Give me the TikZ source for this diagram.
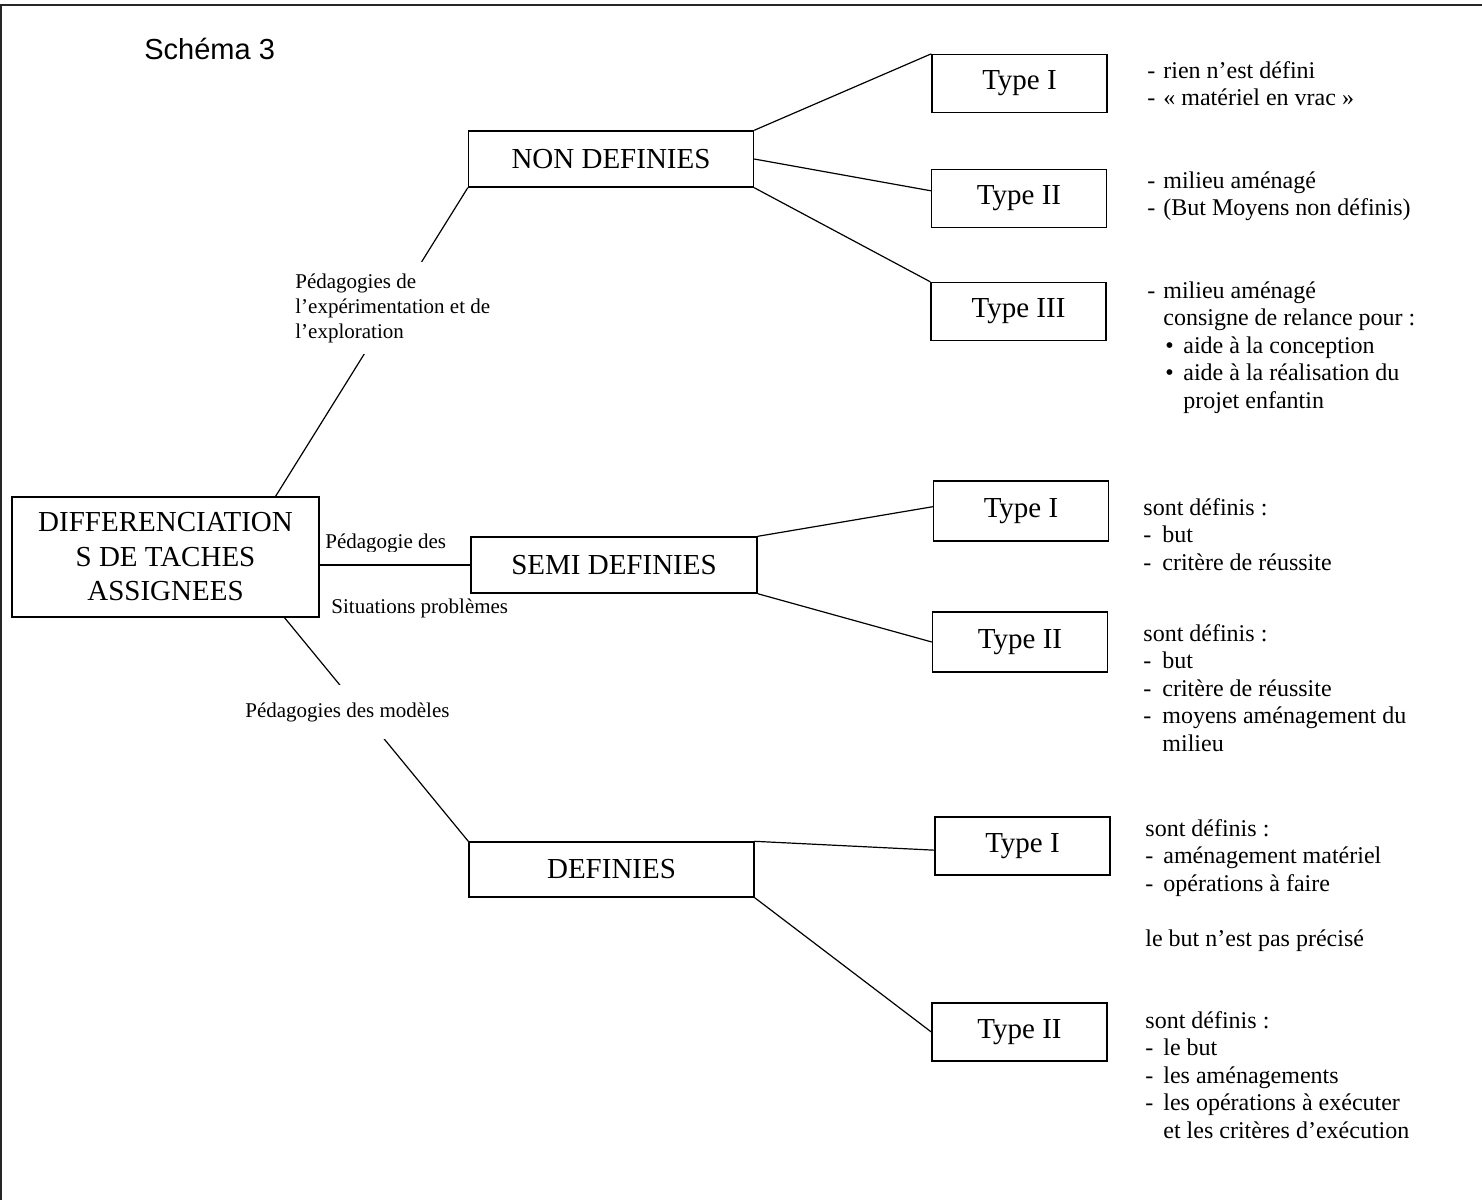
\documentclass[tikz,border=0pt]{standalone}
\usepackage{fontspec}
\setmainfont{Liberation Serif}
\newfontfamily\arialfont{Liberation Sans}
\usetikzlibrary{calc}
\newcommand\diagBoxFont{\fontsize{14.5pt}{17.25pt}\selectfont}
\newcommand\diagNoteFont{\fontsize{12pt}{13.75pt}\selectfont}
\newcommand\diagLabFont{\fontsize{10.5pt}{12.5pt}\selectfont}
\newcommand\diagTitleFont{\arialfont\fontsize{14.5pt}{17pt}\selectfont}
\newcommand\diagDash[1]{\makebox[#1][l]{-}}
\newcommand\diagBul{\hspace*{9pt}\makebox[9pt][l]{\textbullet}}
\begin{document}
\begin{tikzpicture}[x=0.5pt,y=-0.5pt,
  catbox/.style={draw, line width=0.7pt, inner sep=0pt, minimum width=142.5pt, minimum height=28pt, font=\diagBoxFont},
  typebox/.style={draw, line width=0.7pt, inner sep=0pt, minimum width=87.5pt, minimum height=29pt, font=\diagBoxFont},
  conn/.style={line width=0.6pt},
  note/.style={anchor=base west, inner sep=0pt, align=left, font=\diagNoteFont},
  lab/.style={inner sep=0pt, align=left, font=\diagLabFont}]
\useasboundingbox (0,0) rectangle (1482,1200);
% frame
\draw[line width=1pt, black!85] (0,5) -- (1482,5);
\draw[line width=1pt, black!85] (1,5) -- (1,1200);
% title
\node[anchor=base west, inner sep=0pt, font=\diagTitleFont] (title) at (144,59) {Schéma 3};
% boxes
\node[draw, line width=0.7pt, inner sep=0pt, minimum width=153.5pt, minimum height=60pt, align=center, font=\diagBoxFont] (diff) at (165.5,557) {DIFFERENCIATION\\S DE TACHES\\ASSIGNEES};
\node[catbox] (non) at (611,159) {NON DEFINIES};
\node[catbox, minimum width=143pt] (semi) at (614,565) {SEMI DEFINIES};
\node[catbox, minimum height=27.5pt] (def) at (611.5,869.5) {DEFINIES};
\node[typebox] (n1) at (1019.5,83.5) {Type I};
\node[typebox] (n2) at (1019,198.5) {Type II};
\node[typebox] (n3) at (1018.5,311.5) {Type III};
\node[typebox, minimum height=30pt] (s1) at (1021,511) {Type I};
\node[typebox, minimum height=30pt] (s2) at (1020,642) {Type II};
\node[typebox] (d1) at (1022.5,846) {Type I};
\node[typebox] (d2) at (1019.5,1032) {Type II};
% connectors
\draw[conn] ($(diff.north west)!0.857!(diff.north east)$) -- (non.south west);
\draw[conn] (diff.east |- semi.west) -- (semi.west);
\draw[conn] ($(diff.south west)!0.886!(diff.south east)$) -- (def.north west);
\draw[conn] (non.north east) -- (n1.north west);
\draw[conn] (non.east) -- ($(n2.north west)!0.37!(n2.south west)$);
\draw[conn] (non.south east) -- (n3.north west);
\draw[conn] (semi.north east) -- ($(s1.north west)!0.43!(s1.south west)$);
\draw[conn] (semi.south east) -- (s2.west);
\draw[conn] (def.north east) -- ($(d1.north west)!0.57!(d1.south west)$);
\draw[conn] (def.south east) -- (d2.west);
% connector labels
\node[lab, fill=white, anchor=west, minimum height=46pt, inner xsep=1pt] (l1) at (293,308) {Pédagogies de\\l’expérimentation et de\\l’exploration};
\node[lab, fill=white, anchor=west, minimum height=27pt, inner xsep=1pt] (l2) at (243,712) {Pédagogies des modèles};
\begin{scope}
\clip (300,500) rectangle (468,551);
\node[lab, anchor=base west] (l3) at (325,548) {Pédagogie des};
\end{scope}
\node[lab, anchor=base west] (l4) at (331,613) {Situations problèmes};
% notes (anchor = baseline of the last line)
\node[note] (tn1) at (1147,105.5) {\diagDash{8pt}rien n’est défini\\\diagDash{8pt}« matériel en vrac »};
\node[note] (tn2) at (1147,215.5) {\diagDash{8pt}milieu aménagé\\\diagDash{8pt}(But Moyens non définis)};
\node[note] (tn3) at (1147,408) {\diagDash{8pt}milieu aménagé\\\hspace*{8pt}consigne de relance pour :\\\diagBul aide à la conception\\\diagBul aide à la réalisation du\\\hspace*{18pt}projet enfantin};
\node[note] (ts1) at (1143,570) {sont définis :\\\diagDash{9.5pt}but\\\diagDash{9.5pt}critère de réussite};
\node[note] (ts2) at (1143,751) {sont définis :\\\diagDash{9.5pt}but\\\diagDash{9.5pt}critère de réussite\\\diagDash{9.5pt}moyens aménagement du\\\hspace*{9.5pt}milieu};
\node[note] (td1) at (1145,946) {sont définis :\\\diagDash{9pt}aménagement matériel\\\diagDash{9pt}opérations à faire\\[13.75pt]le but n’est pas précisé};
\node[note] (td2) at (1145,1138) {sont définis :\\\diagDash{9pt}le but\\\diagDash{9pt}les aménagements\\\diagDash{9pt}les opérations à exécuter\\\hspace*{9pt}et les critères d’exécution};
\end{tikzpicture}
\end{document}
